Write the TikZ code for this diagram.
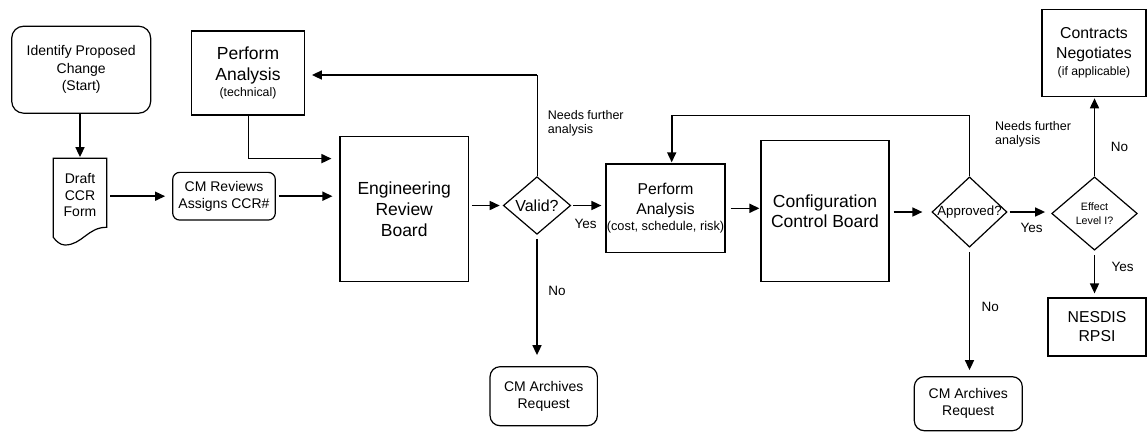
\documentclass[tikz,border=0pt]{standalone}
\usepackage{fontspec}
\setmainfont{Liberation Sans}
\usetikzlibrary{arrows.meta,shapes.geometric}

\newcommand{\fsz}[2]{\fontsize{#1}{#2}\selectfont}

\tikzset{
  box/.style={draw, line width=1.2pt, align=center, inner sep=0pt},
  rbox/.style={box, rounded corners=#1},
  decision/.style={draw, diamond, line width=1.2pt, align=center, inner sep=0pt, aspect=1.2},
  flow/.style={line width=1.6pt, -{Triangle[length=10pt,width=9pt]}},
  thinline/.style={line width=1pt},
  note/.style={align=left, anchor=west, inner sep=0pt, font=\fsz{12.5}{14.7}},
  answer/.style={inner sep=0pt, font=\fsz{13.5}{16}}
}

\begin{document}
\begin{tikzpicture}[x=1pt,y=-1pt]
            \useasboundingbox (0,0) rectangle (1147,432);

            % process steps
            \node[rbox=12pt, minimum width=139, minimum height=87, font=\fsz{14}{17.5}] (start) at (81.2,69.7) {Identify Proposed\\Change\\(Start)};
            \node[align=center, inner sep=0pt, minimum width=54, minimum height=73.4, font=\fsz{14}{16.7}] (draft) at (80,195) {Draft\\CCR\\Form};
            \draw[line width=1.2pt] (53.3,158.3) -- (106.7,158.3) -- (106.7,227.3)
                .. controls (88,227) and (82,245) .. (65,245)
                .. controls (60,245) and (56,241) .. (53.3,237.3) -- cycle;
            \node[rbox=7pt, minimum width=102.6, minimum height=47.7, font=\fsz{14}{17.3}] (cmrev) at (224,196.2) {CM Reviews\\Assigns CCR\#};
            \node[box, minimum width=112.6, minimum height=84, font=\fsz{17.5}{20.6}] (pa1) at (248,73) {Perform\\Analysis\\[-4pt]{\fsz{12.3}{14}(technical)}};
            \node[box, minimum width=128.3, minimum height=145, font=\fsz{17.5}{20.8}] (erb) at (404.2,209.2) {Engineering\\Review\\Board};
            \node[decision, minimum width=67.4, minimum height=57.6, font=\fsz{16}{19}] (valid) at (537,205.5) {Valid?};
            \node[rbox=10pt, minimum width=107.3, minimum height=59, font=\fsz{14}{16.7}] (arch1) at (543.7,396.2) {CM Archives\\Request};
            \node[box, minimum width=119, minimum height=88.7, font=\fsz{15.7}{19.3}] (pa2) at (665.5,208.3) {Perform\\Analysis\\[-3pt]{\fsz{12.8}{15}(cost, schedule, risk)}};
            \node[box, minimum width=128, minimum height=140.7, font=\fsz{17.5}{20}] (ccb) at (825,211) {Configuration\\Control Board};
            \node[decision, minimum width=75, minimum height=70.3, inner xsep=-6pt, font=\fsz{13.3}{16}] (approved) at (969.5,212) {Approved?};
            \node[rbox=10pt, minimum width=108, minimum height=54, font=\fsz{14}{17.3}] (arch2) at (968.3,403.7) {CM Archives\\Request};
            \node[decision, minimum width=85.6, minimum height=73.3, font=\fsz{10.7}{13.4}] (effect) at (1094.5,213.5) {Effect\\Level I?};
            \node[box, minimum width=104, minimum height=87.4, font=\fsz{15.8}{20}] (contracts) at (1094,53) {Contracts\\Negotiates\\[-3pt]{\fsz{12.2}{14}(if applicable)}};
            \node[box, minimum width=98, minimum height=58, font=\fsz{15.8}{19}] (nesdis) at (1097,327) {NESDIS\\RPSI};

            % main flow
            \draw[flow, shorten >=1pt] (start.south -| draft.north) -- (draft.north);
            \draw[flow, shorten <=3pt, shorten >=7pt] (draft.east |- cmrev) -- (cmrev.west);
            \draw[flow, shorten <=3pt, shorten >=7pt] (cmrev.east) -- (cmrev.east -| erb.west);
            \draw[thinline] (pa1.south) -- ++(0,43) coordinate (pa1turn);
            \draw[flow, shorten >=8pt] (pa1turn) -- (pa1turn -| erb.west);
            \draw[flow, shorten <=3pt, shorten >=3pt] (erb.east |- valid) -- (valid.west);
            \draw[flow, shorten <=2pt, shorten >=4pt] (valid.east) -- (valid.east -| pa2.west);
            \draw[flow, shorten <=4pt, shorten >=11pt] (valid.south) -- (valid.south |- arch1.north);
            \draw[flow, shorten <=5pt, shorten >=1pt] (pa2.east) -- (pa2.east -| ccb.west);
            \draw[flow, shorten <=4pt, shorten >=9pt] (ccb.east |- approved) -- (approved.west);
            \draw[flow, shorten <=2pt, shorten >=6pt] (approved.east) -- (approved.east -| effect.west);
            \draw[flow, shorten <=4pt, shorten >=6pt] (approved.south) -- (approved.south |- arch2.north);
            \draw[flow, shorten >=1pt] (effect.north) -- (effect.north |- contracts.south);
            \draw[flow, shorten <=4pt, shorten >=4pt] (effect.south) -- (effect.south |- nesdis.north);

            % loops back for further analysis
            \coordinate (validtop) at (537,75);
            \draw[thinline] (valid.north) -- (validtop);
            \draw[flow, shorten >=7pt] (validtop) -- (validtop -| pa1.east);
            \coordinate (looptop) at (671.7,115);
            \draw[thinline] (approved.north) -- (approved.north |- looptop) -- (looptop);
            \draw[flow, shorten >=1pt] (looptop) -- (looptop |- pa2.north);

            % labels
            \node[note] (needs1) at (547.7,123.3) {Needs further\\analysis};
            \node[note] (needs2) at (995,134.2) {Needs further\\analysis};
            \node[answer] (yes1) at (585.7,224) {Yes};
            \node[answer] (no1) at (557,291) {No};
            \node[answer] (yes2) at (1031.5,228) {Yes};
            \node[answer] (no2) at (990.3,306.7) {No};
            \node[answer] (no3) at (1119.5,146.7) {No};
            \node[answer] (yes3) at (1122.5,266.7) {Yes};
        \end{tikzpicture}
\end{document}
